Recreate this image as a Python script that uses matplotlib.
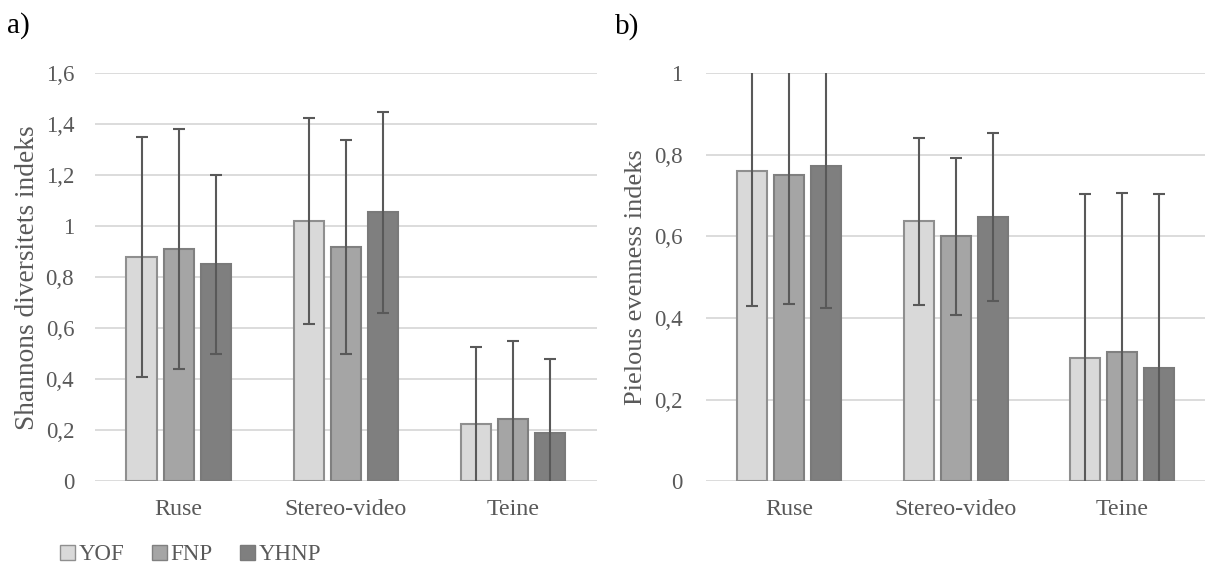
import matplotlib
matplotlib.use("Agg")
import matplotlib.pyplot as plt
import numpy as np
from matplotlib.ticker import FuncFormatter
from matplotlib.patches import Patch

plt.rcParams['font.family'] = ['Liberation Serif', 'DejaVu Serif']

categories = ["Ruse", "Stereo-video", "Teine"]
series = ["YOF", "FNP", "YHNP"]

shannon_mean = {"YOF": [0.88, 1.02, 0.225], "FNP": [0.91, 0.92, 0.245], "YHNP": [0.85, 1.055, 0.19]}
shannon_err = {"YOF": [0.47, 0.405, 0.30], "FNP": [0.47, 0.42, 0.305], "YHNP": [0.35, 0.395, 0.29]}

pielou_mean = {"YOF": [0.76, 0.637, 0.303], "FNP": [0.75, 0.60, 0.316], "YHNP": [0.773, 0.648, 0.277]}
pielou_err = {"YOF": [0.33, 0.205, 0.40], "FNP": [0.315, 0.193, 0.39], "YHNP": [0.348, 0.206, 0.426]}

colors = {"YOF": "#d9d9d9", "FNP": "#a5a5a5", "YHNP": "#7f7f7f"}
edges = {"YOF": "#8f8f8f", "FNP": "#808080", "YHNP": "#7a7a7a"}
txt = "#595959"

fig = plt.figure(figsize=(12.09, 5.64), dpi=100)
ax1 = fig.add_axes([0.0786, 0.147, 0.415, 0.723])
ax2 = fig.add_axes([0.584, 0.147, 0.413, 0.723])

fmt = FuncFormatter(lambda v, p: ("%g" % round(v, 1)).replace(".", ","))

def draw(ax, means, errs, ymax, ylabel, ypad, lpad, lsize):
    x = np.arange(len(categories))
    step = 0.222
    width = 0.18
    for i, s in enumerate(series):
        pos = x + (i - 1) * step
        ax.bar(pos, means[s], width, color=colors[s], edgecolor=edges[s], linewidth=1.5, zorder=2)
        ax.errorbar(pos, means[s], yerr=errs[s], fmt='none', ecolor="#595959",
                    elinewidth=1.5, capsize=4, capthick=1.5, zorder=3, clip_on=True)
    ax.set_xlim(-0.5, 2.5)
    ax.set_ylim(0, ymax)
    ax.set_yticks(np.arange(0, ymax + 0.001, 0.2))
    ax.yaxis.set_major_formatter(fmt)
    ax.set_xticks(x)
    ax.set_xticklabels(categories, fontsize=17.3)
    ax.grid(axis='y', color="#d9d9d9", linewidth=1.3, zorder=0)
    ax.set_axisbelow(True)
    for sp in ax.spines.values():
        sp.set_visible(False)
    ax.tick_params(axis='both', length=0, colors=txt)
    ax.tick_params(axis='y', pad=ypad, labelsize=16.5)
    ax.tick_params(axis='x', pad=13, labelsize=17.3)
    ax.set_ylabel(ylabel, fontsize=lsize, color=txt, labelpad=lpad)

draw(ax1, shannon_mean, shannon_err, 1.6, "Shannons diversitets indeks", 15, 4, 19.7)
draw(ax2, pielou_mean, pielou_err, 1.0, "Pielous evenness indeks", 17, 5, 19)

fig.text(0.006, 0.942, "a)", fontsize=21, color="black")
fig.text(0.509, 0.940, "b)", fontsize=21, color="black")

handles = [Patch(facecolor=colors[s], edgecolor=edges[s], label=s) for s in series]
fig.legend(handles=handles, loc='center left', bbox_to_anchor=(0.050, 0.016), ncol=3,
           frameon=False, fontsize=16.5, labelcolor=txt, handlelength=0.65, handleheight=0.65,
           handletextpad=0.15, columnspacing=1.2, borderaxespad=0, borderpad=0)

fig.savefig("out.png", dpi=100)
